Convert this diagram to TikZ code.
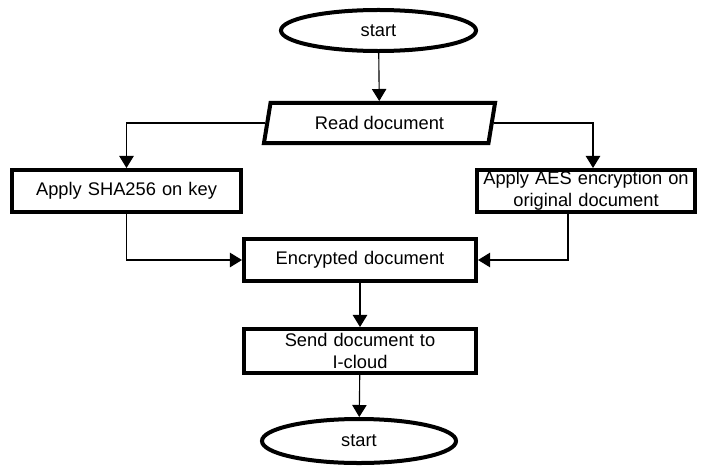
\documentclass[tikz,border=0pt]{standalone}
\usepackage{fontspec}
\setmainfont{Liberation Sans}
\usetikzlibrary{shapes.geometric,arrows.meta}

\begin{document}
\begin{tikzpicture}
[
	x=0.025cm,y=-0.025cm,
	>={Triangle[length=0.3cm,width=0.36cm]},
	font=\fontsize{13}{15.5}\selectfont,
	term/.style={ellipse,draw,line width=0.1cm,inner sep=0pt},
	io/.style={trapezium,draw,line width=0.1cm,trapezium left angle=64,trapezium right angle=116,trapezium stretches body,inner sep=0pt},
	sq/.style={rectangle,draw,line width=0.1cm,inner sep=0pt,align=center,text width=5.4cm}
]
\useasboundingbox (0,0) rectangle (707,466);

\node[term,minimum width=4.875cm,minimum height=1.025cm] (start1) at (378.5,30.5) {start};
\node[io,minimum width=5.775cm,minimum height=1cm] (read) at (379.5,123) {Read document};

\node[sq,minimum width=5.725cm,minimum height=1.05cm] (sha) at (126.5,191) {Apply SHA256 on key};
\node[sq,minimum width=5.45cm,minimum height=1.05cm] (aes) at (586,191) {Apply AES encryption on\\original document};

\node[sq,minimum width=5.8cm,minimum height=1.05cm] (enc) at (360,260) {Encrypted document};
\node[sq,minimum width=5.8cm,minimum height=1.1cm] (send) at (360,351) {Send document to\\I-cloud};

\node[term,minimum width=4.85cm,minimum height=1.1cm] (end1) at (359,441) {start};


\draw[thick,->]	(start1)	-- 	(read);

\draw[thick,->] (read.west)	-|	(sha.north);
\draw[thick,->] (read.east)	-|	([xshift=0.175cm]aes.north);

\draw[thick,->] (sha.south)	|-	(enc.west);
\draw[thick,->] ([xshift=-0.45cm]aes.south)	|-	(enc.east);

\draw[thick,->]	(enc)		-- 	(send);
\draw[thick,->]	(send)		-- 	(end1);

\end{tikzpicture}
\end{document}
